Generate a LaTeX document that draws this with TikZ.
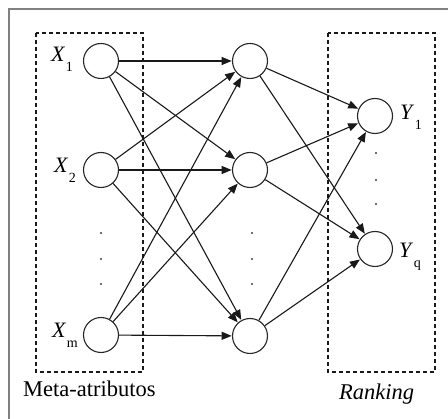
\documentclass[tikz,border=0pt]{standalone}
\usepackage{fontspec}
\setmainfont{Liberation Serif}
\usetikzlibrary{arrows.meta}
% variable name with a lowered upright index
\newcommand\varlbl[2]{\textit{#1}\kern0.5pt\raisebox{-10pt}{\fontsize{14}{14}\selectfont #2}}

\begin{document}
\begin{tikzpicture}[x=1pt,y=-1pt,
  neuron/.style={circle,draw=black!85,line width=1.1pt,minimum size=35pt,inner sep=0pt,fill=white},
  link/.style={draw=black!90,line width=1.1pt,-{Triangle[length=10pt,width=8pt]},shorten >=0.3pt},
  group/.style={draw=black!90,dash pattern=on 4pt off 3pt,line width=1.3pt},
  varname/.style={font=\fontsize{22}{22}\selectfont,inner sep=0pt,anchor=base west},
  caption/.style={font=\fontsize{22.5}{22.5}\selectfont,inner sep=0pt,anchor=base west},
  dot/.style={circle,fill=black!75,inner sep=0pt,minimum size=2.4pt}]
\useasboundingbox (0,0) rectangle (448,419);
\fill[white] (0,0) rectangle (448,419);
% frame
\draw[black!50,line width=2pt] (8.5,419) -- (8.5,9.5) -- (448,9.5);

% groups
\draw[group] (36,33) rectangle (143,372);
\draw[group] (328,33) rectangle (435,372);

% neurons
\node[neuron] (x1) at (101,61) {};
\node[neuron] (x2) at (101,170) {};
\node[neuron] (xm) at (101,335) {};
\node[neuron] (h1) at (250,61) {};
\node[neuron] (h2) at (250,170) {};
\node[neuron] (h3) at (250,336) {};
\node[neuron] (y1) at (375,116) {};
\node[neuron] (yq) at (375,249) {};

% connections
\foreach \a in {x1,x2,xm}
  \foreach \b in {h1,h2,h3}
    \draw[link] (\a) -- (\b);
\foreach \a in {h1,h2,h3}
  \foreach \b in {y1,yq}
    \draw[link] (\a) -- (\b);

% ellipsis dots
\foreach \y [count=\i] in {233,259,284} {
  \node[dot] (dx\i) at (101,\y) {};
  \node[dot] (dh\i) at (252,\y) {};
}
\foreach \y [count=\i] in {153,180,204}
  \node[dot] (dy\i) at (376,\y) {};

% labels
\node[varname] (lx1) at (51,62) {\varlbl{X}{1}};
\node[varname] (lx2) at (54,173) {\varlbl{X}{2}};
\node[varname] (lxm) at (52,338) {\varlbl{X}{m}};
\node[varname] (ly1) at (400,120) {\varlbl{Y}{1}};
\node[varname] (lyq) at (399,258) {\varlbl{Y}{q}};

\node[caption] (cin) at (23,397) {Meta-atributos};
\node[caption] (cout) at (339,400) {\textit{Ranking}};
\end{tikzpicture}
\end{document}
